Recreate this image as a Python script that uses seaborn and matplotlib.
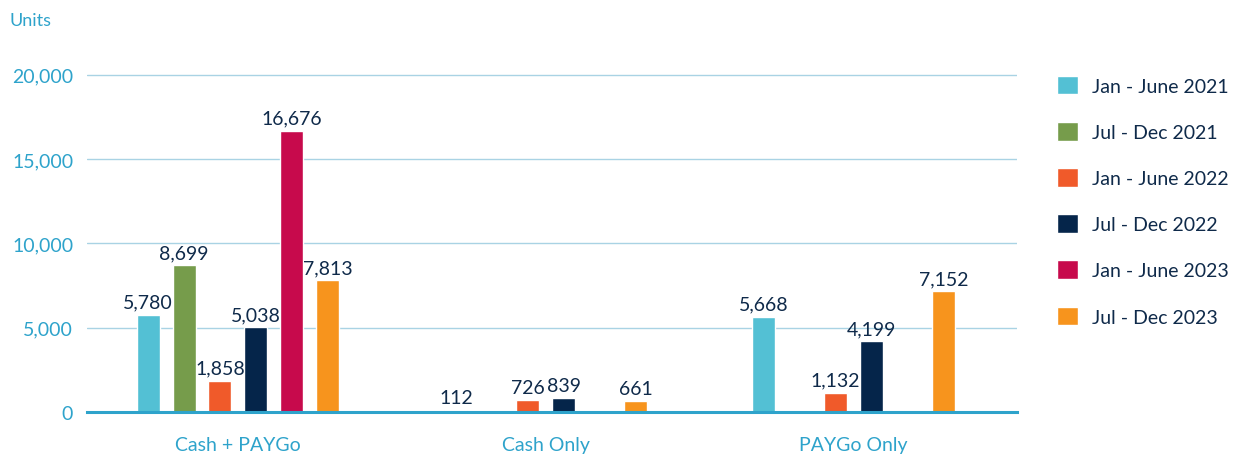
import pandas as pd
import matplotlib
matplotlib.use('Agg')
import matplotlib.pyplot as plt
import seaborn as sns

# data
categories = ['Cash + PAYGo', 'Cash Only', 'PAYGo Only']
periods = ['Jan - June 2021', 'Jul - Dec 2021', 'Jan - June 2022',
           'Jul - Dec 2022', 'Jan - June 2023', 'Jul - Dec 2023']
cash_paygo = [5780, 8699, 1858, 5038, 16676, 7813]
cash_only = [112, None, 726, 839, None, 661]
paygo_only = [5668, None, 1132, 4199, None, 7152]
y_ticks = [0, 5000, 10000, 15000, 20000]

colors = ['#53C0D4', '#769C4B', '#F05A2A', '#05254A', '#C70A4C', '#F7941D']
TEXT = '#0F2A4A'
AXIS = '#2EA3CB'

rows = []
for cat, vals in zip(categories, [cash_paygo, cash_only, paygo_only]):
    for per, v in zip(periods, vals):
        if v is not None:
            rows.append({'category': cat, 'period': per, 'units': v})
df = pd.DataFrame(rows)

sns.set_style('white')
plt.rcParams['font.family'] = ['Lato', 'DejaVu Sans']

fig = plt.figure(figsize=(12.49, 4.6), dpi=100)
ax = fig.add_axes([0.0697, 0.102, 0.7443, 0.735])

sns.barplot(data=df, x='category', y='units', hue='period', order=categories,
            hue_order=periods, palette=colors, width=0.70, gap=0.36,
            saturation=1, ax=ax)

# value labels
for cont in ax.containers:
    labels = [f'{v:,.0f}' for v in cont.datavalues]
    ax.bar_label(cont, labels=labels, padding=3, fontsize=14, color=TEXT)

ax.set_xlim(-0.49, 2.53)
ax.set_ylim(0, 20050)
ax.set_yticks(y_ticks)
ax.set_yticklabels([f'{t:,}' for t in y_ticks])
ax.yaxis.grid(True, color='#A9D3E4', linewidth=1)
ax.set_axisbelow(True)
for s in ['top', 'right', 'left']:
    ax.spines[s].set_visible(False)
ax.spines['bottom'].set_color(AXIS)
ax.spines['bottom'].set_linewidth(2.2)
ax.tick_params(axis='y', length=0, pad=10, labelsize=14, labelcolor=AXIS)
ax.tick_params(axis='x', length=0, pad=17, labelsize=14, labelcolor=AXIS)
ax.set_xlabel('')
ax.set_ylabel('')

fig.text(0.008, 0.955, 'Units', fontsize=13, color=AXIS, va='center')

ax.legend(loc='upper left', bbox_to_anchor=(0.84, 0.85), bbox_transform=fig.transFigure,
          frameon=False, fontsize=14, labelcolor=TEXT, handlelength=1.1,
          handleheight=1.1, labelspacing=1.4, handletextpad=0.7, borderaxespad=0)

fig.savefig('out.png', dpi=100)
